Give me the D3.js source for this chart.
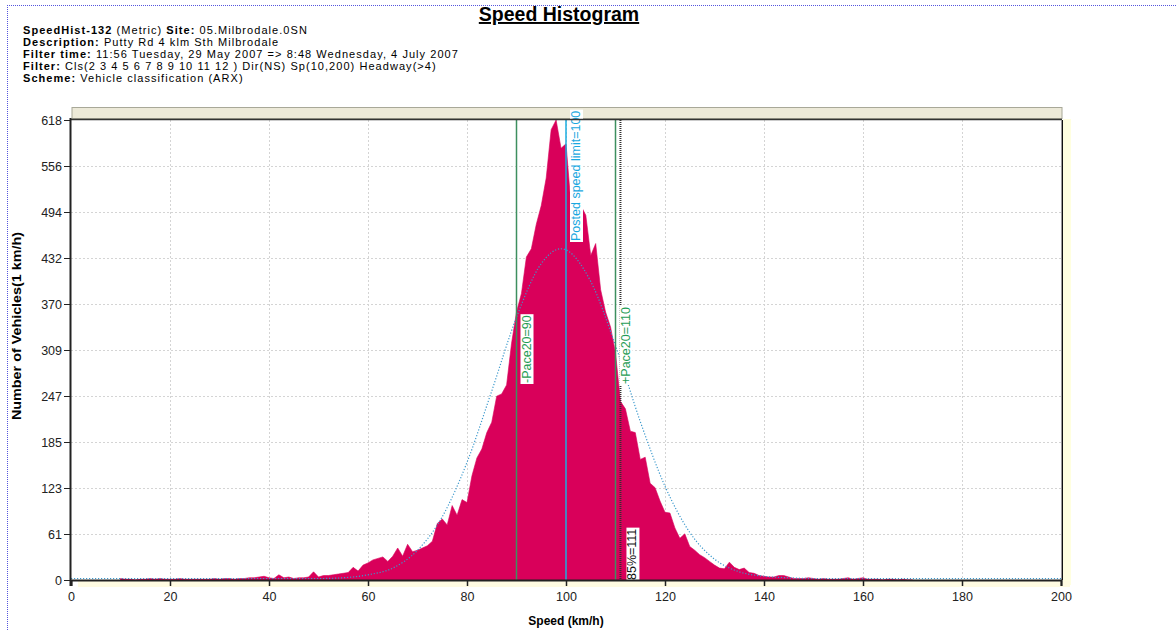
<!DOCTYPE html>
<html>
<head>
<meta charset="utf-8">
<script src="https://cdn.jsdelivr.net/npm/d3@7"></script>
<style>
  body { margin: 0; background: #fff; }
  svg { display: block; font-family: "Liberation Sans", Arial, sans-serif; }
</style>
</head>
<body>
<svg width="1176" height="630"></svg>
<script>
// header text
var titleText = "Speed Histogram";
var headerLines = [
  ["SpeedHist-132", " (Metric) ", "Site:", " 05.Milbrodale.0SN"],
  ["Description:", " Putty Rd 4 klm Sth Milbrodale"],
  ["Filter time:", " 11:56 Tuesday, 29 May 2007 => 8:48 Wednesday, 4 July 2007"],
  ["Filter:", " Cls(2 3 4 5 6 7 8 9 10 11 12 ) Dir(NS) Sp(10,200) Headway(>4)"],
  ["Scheme:", " Vehicle classification (ARX)"]
];

// histogram, vehicles per 1 km/h bin
var speeds = d3.range(10, 171);
var counts = [
  2, 1, 1, 0, 1, 1, 2, 1, 2, 1,            // 10-19
  1, 1, 2, 1, 1, 1, 1, 1, 1, 2,            // 20-29
  1, 2, 2, 1, 2, 2, 3, 3, 4, 5,            // 30-39
  3, 2, 7, 3, 4, 2, 3, 3, 4, 11,           // 40-49
  4, 6, 6, 7, 8, 9, 10, 17, 12, 20,        // 50-59
  23, 27, 29, 31, 25, 32, 43, 32, 48, 38,  // 60-69
  40, 43, 46, 52, 76, 82, 74, 100, 87, 108, // 70-79
  104, 140, 164, 176, 198, 212, 247, 250, 262, 318, // 80-89
  360, 385, 434, 445, 478, 503, 540, 605, 618, 580, // 90-99
  586, 505, 503, 503, 490, 436, 452, 390, 360, 340, // 100-109
  305, 240, 230, 200, 198, 162, 165, 130, 124, 106, // 110-119
  91, 90, 70, 56, 62, 45, 40, 34, 30, 25,  // 120-129
  20, 16, 15, 24, 17, 14, 16, 10, 9, 6,    // 130-139
  5, 4, 4, 6, 6, 4, 2, 2, 2, 3,            // 140-149
  2, 1, 2, 1, 1, 1, 2, 3, 1, 2,            // 150-159
  3, 1, 1, 1, 0, 1, 1, 0, 1, 0, 0          // 160-170
];

// fitted curve (dotted)
var fitSpeeds = [0, 40, 50, 55, 60, 65, 70, 75, 80, 85, 90, 95, 99, 105, 110, 115, 120, 125, 130, 135, 140, 145, 150, 200];
var fitCounts = [2, 2, 2, 3, 7, 16, 40, 85, 158, 254, 353, 425, 445, 401, 315, 213, 126, 64, 28, 11, 5, 3, 2, 2];

// axes
var xTicks = [0, 20, 40, 60, 80, 100, 120, 140, 160, 180, 200];
var yMax = 618;
var yTickLabels = ["0", "61", "123", "185", "247", "309", "370", "432", "494", "556", "618"];

// marker lines
var markers = [
  {name: "pace-", speed: 90, label: "-Pace20=90"},
  {name: "posted", speed: 100, label: "Posted speed limit=100"},
  {name: "pace+", speed: 110, label: "+Pace20=110"},
  {name: "p85", speed: 111, label: "85%=111"}
];

var drawChart = function() {
  var svg = d3.select("svg");
  var pLeft = 71, pRight = 1061, pTop = 120, pBottom = 580;

  var x = d3.scaleLinear().domain([0, 200]).range([pLeft, pRight]);
  var y = d3.scaleLinear().domain([0, yMax]).range([pBottom, pTop]);

  // outer dotted frame
  svg.append("line").attr("x1", 7).attr("x2", 1176).attr("y1", 5.5).attr("y2", 5.5)
      .attr("stroke", "#5555dd").attr("stroke-dasharray", "1,1");
  svg.append("line").attr("x1", 7.5).attr("x2", 7.5).attr("y1", 5).attr("y2", 630)
      .attr("stroke", "#5555dd").attr("stroke-dasharray", "1,1");

  // title
  svg.append("text").attr("x", 559).attr("y", 21).attr("text-anchor", "middle")
      .attr("font-size", 19.5).attr("font-weight", "bold")
      .attr("text-decoration", "underline").text(titleText);

  var header = svg.append("g").attr("font-size", 11).attr("letter-spacing", 1.05);
  headerLines.forEach(function(parts, i) {
    var t = header.append("text").attr("x", 23).attr("y", 34 + i * 12);
    parts.forEach(function(p) {
      var bold = p.trim().slice(-1) == ":" || p == "SpeedHist-132";
      t.append("tspan").attr("font-weight", bold ? "bold" : "normal").text(p);
    });
  });

  // tan bar above plot
  svg.append("rect").attr("x", pLeft + 1).attr("y", 107.5).attr("width", pRight - pLeft).attr("height", 11)
      .attr("fill", "#ece9d8").attr("stroke", "#a8a898");

  // pale strips right and below plot
  svg.append("rect").attr("x", pRight + 2).attr("y", pTop - 1).attr("width", 8).attr("height", pBottom - pTop + 6)
      .attr("fill", "#ffffe0");
  svg.append("rect").attr("x", pLeft + 7).attr("y", pBottom + 1).attr("width", pRight - pLeft + 2).attr("height", 6)
      .attr("fill", "#fffbe2");

  // grid
  var grid = svg.append("g").attr("stroke", "#d4d4d4").attr("stroke-dasharray", "2,2");
  grid.selectAll(".gy").data(yTickLabels.slice(1, -1)).enter().append("line")
      .attr("x1", pLeft).attr("x2", pRight)
      .attr("y1", function(d, i) { return Math.round(y(yMax * (i + 1) / 10)) + 0.5; })
      .attr("y2", function(d, i) { return Math.round(y(yMax * (i + 1) / 10)) + 0.5; });
  grid.selectAll(".gx").data(xTicks.slice(1, -1)).enter().append("line")
      .attr("y1", pTop).attr("y2", pBottom)
      .attr("x1", function(d) { return Math.round(x(d)) + 0.5; })
      .attr("x2", function(d) { return Math.round(x(d)) + 0.5; });

  // histogram area
  var hist = speeds.map(function(s, i) { return [s, counts[i]]; });
  var area = d3.area()
      .x(function(d) { return x(d[0]); })
      .y0(y(0))
      .y1(function(d) { return y(d[1]); });
  svg.append("path").datum(hist).attr("d", area)
      .attr("fill", "#d9005a").attr("stroke", "#d9005a").attr("stroke-width", 0.6);

  // fitted curve
  var fit = fitSpeeds.map(function(s, i) { return [s, fitCounts[i]]; });
  svg.append("path").datum(fit)
      .attr("d", d3.line().curve(d3.curveMonotoneX)
          .x(function(d) { return x(d[0]); })
          .y(function(d) { return y(d[1]); }))
      .attr("fill", "none").attr("stroke", "#3a98cc").attr("stroke-width", 1.2)
      .attr("stroke-dasharray", "1.2,1.8");

  // marker lines
  var styles = {
    "pace-": {color: "#3d8f5f", dash: null, width: 1.5, labelColor: "#1f9d55", dx: 14, ly: 383},
    "posted": {color: "#1aaee0", dash: null, width: 1.5, labelColor: "#19a8e0", dx: 14, ly: 241},
    "pace+": {color: "#3d8f5f", dash: null, width: 1.5, labelColor: "#1f9d55", dx: 14, ly: 384},
    "p85": {color: "#333", dash: "1,1", width: 2, labelColor: "#111", dx: 16, ly: 580}
  };
  markers.forEach(function(m) {
    var st = styles[m.name];
    var mx = x(m.speed);
    svg.append("line").attr("x1", mx).attr("x2", mx).attr("y1", pTop).attr("y2", pBottom)
        .attr("stroke", st.color).attr("stroke-width", st.width)
        .attr("stroke-dasharray", st.dash);
  });
  markers.forEach(function(m) {
    var st = styles[m.name];
    var mx = x(m.speed);
    var g = svg.append("g")
        .attr("transform", "translate(" + (mx + st.dx) + "," + st.ly + ") rotate(-90)");
    var bg = g.append("rect").attr("fill", "#fff");
    var t = g.append("text").attr("font-size", 12.5).attr("fill", st.labelColor).text(m.label);
    var bb = t.node().getBBox();
    bg.attr("x", bb.x - 1).attr("y", bb.y + 1).attr("width", bb.width + 2).attr("height", bb.height - 1);
  });

  // plot frame
  svg.append("line").attr("x1", pLeft).attr("x2", pRight + 1).attr("y1", pTop - 0.5).attr("y2", pTop - 0.5)
      .attr("stroke", "#333").attr("stroke-width", 1.5);
  svg.append("line").attr("x1", pRight + 0.5).attr("x2", pRight + 0.5).attr("y1", pTop).attr("y2", pBottom)
      .attr("stroke", "#999");
  svg.append("line").attr("x1", pRight + 1.5).attr("x2", pRight + 1.5).attr("y1", pTop).attr("y2", pBottom)
      .attr("stroke", "#111");

  // x axis
  var xAxis = svg.append("g").attr("transform", "translate(0," + pBottom + ")")
      .call(d3.axisBottom(x).tickValues(xTicks).tickSize(6).tickPadding(6).tickFormat(d3.format("d")));
  xAxis.select(".domain").attr("stroke", "#222").attr("stroke-width", 2);
  xAxis.selectAll(".tick line").attr("stroke", "#222").attr("stroke-width", 1.5);
  xAxis.selectAll("text").attr("font-size", 12.5).attr("fill", "#222")
      .attr("font-family", "'Liberation Sans', Arial, sans-serif");

  // y axis
  var yAxis = svg.append("g").attr("transform", "translate(" + pLeft + ",0)")
      .call(d3.axisLeft(y)
          .tickValues(yTickLabels.map(function(d, i) { return yMax * i / 10; }))
          .tickSize(7).tickPadding(2)
          .tickFormat(function(d, i) { return yTickLabels[i]; }));
  yAxis.select(".domain").attr("stroke", "#222").attr("stroke-width", 2)
      .attr("d", "M-0.5," + (pTop - 2) + "V" + (pBottom + 6));
  yAxis.selectAll(".tick line").attr("stroke", "#222");
  yAxis.selectAll("text").attr("font-size", 12.5).attr("fill", "#222")
      .attr("font-family", "'Liberation Sans', Arial, sans-serif");

  // axis titles
  svg.append("text").attr("x", 566).attr("y", 625).attr("text-anchor", "middle")
      .attr("font-size", 12).attr("font-weight", "bold").text("Speed (km/h)");
  svg.append("text").attr("transform", "translate(21,326) rotate(-90)").attr("text-anchor", "middle")
      .attr("font-size", 12).attr("font-weight", "bold").attr("textLength", 188)
      .attr("lengthAdjust", "spacingAndGlyphs").text("Number of Vehicles(1 km/h)");
};

drawChart();
</script>
</body>
</html>
